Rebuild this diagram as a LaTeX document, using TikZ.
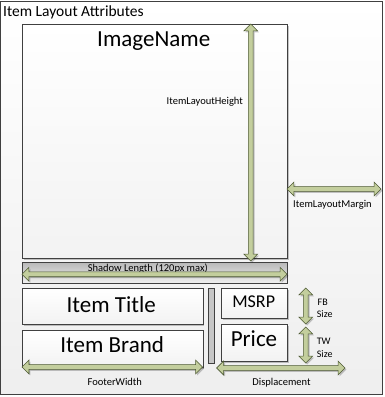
\documentclass[tikz,border=0pt]{standalone}
\usepackage{fontspec}
\setmainfont{Carlito}
\usetikzlibrary{shapes.arrows,shadows}
\definecolor{arrowfill}{HTML}{C3CE9D}
\definecolor{arrowline}{HTML}{4E5A34}
\definecolor{frame}{HTML}{404040}
\begin{document}
\begin{tikzpicture}[x=1pt,y=-1pt,
  softshadow/.style={drop shadow={shadow xshift=1.5pt,shadow yshift=-1.5pt,opacity=0.22,fill=black}},
  panel/.style={draw=frame,line width=0.8pt,anchor=north west,inner sep=0pt,
    top color=white,bottom color=gray!10,softshadow},
  dimarrow/.style={double arrow,draw=arrowline,fill=arrowfill,line width=0.6pt,
    inner xsep=0pt,inner ysep=2.1pt,minimum width=0pt,
    double arrow head extend=4.5pt,double arrow tip angle=90,softshadow},
  txt/.style={inner sep=0pt,anchor=base,text=black},
  small/.style={txt,font=\fontsize{10.5}{12}\selectfont},
  big/.style={txt,font=\fontsize{23}{26}\selectfont},
]
\useasboundingbox (0,0) rectangle (384,397);

% outer frame
\node[draw=frame,line width=0.8pt,anchor=north west,inner sep=0pt,
  top color=white,bottom color=gray!13,minimum width=381.5pt,minimum height=393.5pt]
  (frameall) at (0.5,0.5) {};
\node[txt,anchor=base west,font=\fontsize{15.5}{18}\selectfont] (heading) at (3,16.7) {Item Layout Attributes};

% image area
\node[panel,minimum width=265pt,minimum height=234pt] (image) at (22,24) {};
\node[big] (imagename) at (153.7,46.7) {ImageName};
\node[small] (heightlbl) at (204.8,104.3) {ItemLayoutHeight};

% shadow strip
\node[draw=frame,line width=0.8pt,anchor=north west,inner sep=0pt,
  top color=gray!55,bottom color=gray!12,minimum width=265pt,minimum height=20.5pt]
  (shadowbar) at (22,262) {};
\node[small] (shadowlbl) at (147.8,271.5) {Shadow Length (120px max)};

% footer boxes
\node[panel,minimum width=180.5pt,minimum height=36pt] (title) at (22,288) {};
\node[big] (titletxt) at (111.2,312) {Item Title};
\node[panel,minimum width=180.5pt,minimum height=37pt] (brand) at (22,330) {};
\node[big] (brandtxt) at (112.2,352.7) {Item Brand};

\node[draw=frame,line width=0.8pt,fill=gray!45,anchor=north west,inner sep=0pt,
  minimum width=6pt,minimum height=75pt] (divider) at (208.3,288) {};

\node[panel,minimum width=65.7pt,minimum height=30pt] (msrp) at (221,288) {};
\node[txt,font=\fontsize{18}{21}\selectfont] (msrptxt) at (253.7,307.3) {MSRP};
\node[panel,minimum width=65.7pt,minimum height=37pt] (price) at (221,324) {};
\node[big] (pricetxt) at (254,346.7) {Price};

% dimension arrows
\node[dimarrow,minimum height=237pt,rotate=90] (heightarrow) at (250.7,142.5) {};
\node[dimarrow,minimum height=94pt] (marginarrow) at (334,189) {};
\node[small] (marginlbl) at (332.5,207.7) {ItemLayoutMargin};
\node[dimarrow,minimum height=265pt] (shadowarrow) at (154.5,274.3) {};
\node[dimarrow,minimum height=180.5pt] (footerarrow) at (112.3,367) {};
\node[small] (footerlbl) at (114.8,385) {FooterWidth};
\node[dimarrow,minimum height=128.3pt] (disparrow) at (280.8,368) {};
\node[small] (displbl) at (281.5,385.3) {Displacement};
\node[dimarrow,minimum height=36pt,rotate=90] (fbarrow) at (305.7,306) {};
\node[dimarrow,minimum height=36pt,rotate=90] (twarrow) at (305.7,345) {};

\node[small,font=\fontsize{10}{12}\selectfont] (fblbl) at (322.7,305) {FB};
\node[small,font=\fontsize{10}{12}\selectfont] (fbsize) at (324.7,317.7) {Size};
\node[small,font=\fontsize{10}{12}\selectfont] (twlbl) at (323.7,344.3) {TW};
\node[small,font=\fontsize{10}{12}\selectfont] (twsize) at (324.7,357.3) {Size};
\end{tikzpicture}
\end{document}
